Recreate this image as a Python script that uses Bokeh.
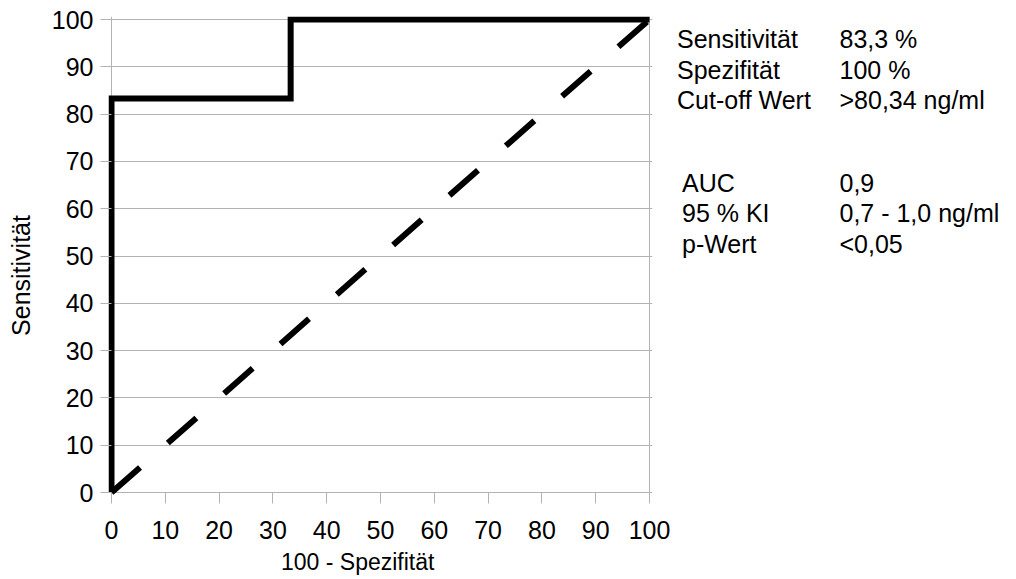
import math
from bokeh.plotting import figure
from bokeh.models import Range1d, FixedTicker, ColumnDataSource, Title
from bokeh.layouts import row
from bokeh.core.properties import value
from bokeh.embed import file_html
from bokeh.resources import INLINE

# ---- data ----
roc_x = [0, 0, 33.3, 33.3, 100]
roc_y = [0, 83.3, 83.3, 100, 100]
ref_x = [0, 100]
ref_y = [0, 100]
tick_values = [0, 10, 20, 30, 40, 50, 60, 70, 80, 90, 100]
x_title = "100 - Spezifität"
y_title = "Sensitivität"
stats_names = ["Sensitivität", "Spezifität", "Cut-off Wert"]
stats_values = ["83,3 %", "100 %", ">80,34 ng/ml"]
auc_names = ["AUC", "95 % KI", "p-Wert"]
auc_values = ["0,9", "0,7 - 1,0 ng/ml", "<0,05"]

FONT = "Liberation Sans"
GRID = "#b3b3b3"
W, H = 1016, 579

# pixel geometry of the 0..100 box
X0, X1, Y0, Y1 = 111, 649, 492, 19
kx = (X1 - X0) / 100.0
ky = (Y0 - Y1) / 100.0
PAD = 3
padx = PAD / kx
pady = PAD / ky
F_TOP = Y1 - PAD          # frame top (px)
F_BOT = Y0 + PAD          # frame bottom (px)
YT_W = 46                 # strip holding the y title
CHART_R = 672             # right edge of the chart canvas


def text_panel(width, x0):
    f = figure(width=width, height=H, output_backend="svg", toolbar_location=None,
               title=None, x_range=Range1d(x0, x0 + width), y_range=Range1d(F_BOT, F_TOP),
               x_axis_type=None, y_axis_type=None,
               min_border_left=0, min_border_right=0,
               min_border_top=F_TOP, min_border_bottom=H - F_BOT)
    f.outline_line_color = None
    f.background_fill_color = "white"
    f.border_fill_color = "white"
    return f


p = figure(width=CHART_R - YT_W, height=H, output_backend="svg", toolbar_location=None,
           title=None,
           x_range=Range1d(-padx, 100 + padx), y_range=Range1d(-pady, 100 + pady),
           min_border_left=X0 - PAD - YT_W, min_border_right=CHART_R - (X1 + PAD),
           min_border_top=F_TOP, min_border_bottom=H - F_BOT)
p.outline_line_color = None
p.background_fill_color = "white"
p.border_fill_color = "white"

for ax in (p.xaxis[0], p.yaxis[0]):
    ax.ticker = FixedTicker(ticks=tick_values)
    ax.axis_line_color = None
    ax.major_tick_line_color = GRID
    ax.major_tick_in = PAD
    ax.major_tick_out = 8
    ax.minor_tick_line_color = None
    ax.major_label_text_font = FONT
    ax.major_label_text_font_size = "25px"
    ax.major_label_text_color = "black"
p.xaxis.major_label_standoff = 17
p.yaxis.major_label_standoff = 7

p.xgrid.ticker = FixedTicker(ticks=[0, 100])
p.ygrid.ticker = FixedTicker(ticks=tick_values)
p.grid.grid_line_color = GRID
p.grid.grid_line_width = 1

p.line(ref_x, ref_y, line_color="black", line_width=6, line_dash="38 37")
p.line(roc_x, roc_y, line_color="black", line_width=6, line_join="miter")

p.add_layout(Title(text=x_title, align="left", offset=280.5 - (X0 - PAD), standoff=10,
                   text_font=FONT, text_font_size="23px", text_font_style="normal",
                   text_color="black"), "below")

# ---- y title strip ----
yt = text_panel(YT_W, 0)
yt.text(x=[20], y=[275], text=[y_title], angle=math.pi / 2, text_font=value(FONT),
        text_font_size=value("25px"), text_align="center", text_baseline="middle",
        text_color="black")

# ---- statistics text panel ----
q = text_panel(W - CHART_R, CHART_R)
rows1 = [38.6, 69.0, 99.3]
rows2 = [182.6, 212.9, 243.2]
src = ColumnDataSource(dict(
    x=[676.5] * 3 + [839] * 3 + [681.5] * 3 + [839] * 3,
    y=rows1 + rows1 + rows2 + rows2,
    t=stats_names + stats_values + auc_names + auc_values,
))
q.text(x="x", y="y", text="t", source=src, text_font=value(FONT),
       text_font_size=value("25px"), text_baseline="middle", text_align="left",
       text_color="black")

layout = row(yt, p, q, spacing=0)
open("out.html", "w").write(file_html(layout, INLINE))
